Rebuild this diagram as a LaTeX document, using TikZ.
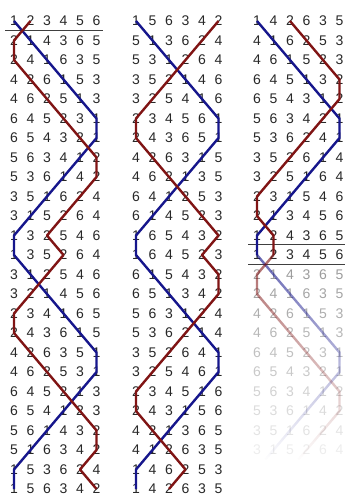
\documentclass[tikz,border=0pt]{standalone}
\usepackage{fontspec}
\setmainfont{Liberation Sans}
\usetikzlibrary{fadings}
\definecolor{trebleblue}{RGB}{22,22,140}
\definecolor{bellred}{RGB}{128,20,20}
\definecolor{digitgray}{RGB}{40,40,40}
\tikzset{
  digit/.style={inner sep=0pt, font=\fontsize{14}{14}\selectfont, text=digitgray},
  treble/.style={draw=trebleblue, line width=2.4pt, line join=round},
  belltwo/.style={draw=bellred, line width=2.4pt, line join=round},
  leadrule/.style={draw=black!75, line width=0.8pt},
}
\tikzfading[name=fadeout, top color=transparent!35, bottom color=transparent!100]
\newcommand\ringcol[4]{%
  \foreach \pa/\pb/\pc/\pd/\pe/\pf [count=\i] in {#3} {
    \pgfmathsetmacro\op{\i>#4 ? max(0.08, 0.46-(\i-#4-1)*0.042) : 1}
    \foreach \v [count=\p] in {\pa,\pb,\pc,\pd,\pe,\pf} {
      \node[digit, text opacity=\op] (#1-\i-\p) at ({#2+(\p-1)*16.5},{21+(\i-1)*19.5}) {\v};
    }
  }
}
\begin{document}
\begin{tikzpicture}[x=1pt,y=-1pt]
\fill[white] (0,0) rectangle (345,496);
\useasboundingbox (0,0) rectangle (345,496);
% column 1
\ringcol{A}{14}{1/2/3/4/5/6, 2/1/4/3/6/5, 2/4/1/6/3/5, 4/2/6/1/5/3, 4/6/2/5/1/3, 6/4/5/2/3/1, 6/5/4/3/2/1, 5/6/3/4/1/2, 5/3/6/1/4/2, 3/5/1/6/2/4, 3/1/5/2/6/4, 1/3/2/5/4/6, 1/3/5/2/6/4, 3/1/2/5/4/6, 3/2/1/4/5/6, 2/3/4/1/6/5, 2/4/3/6/1/5, 4/2/6/3/5/1, 4/6/2/5/3/1, 6/4/5/2/1/3, 6/5/4/1/2/3, 5/6/1/4/3/2, 5/1/6/3/4/2, 1/5/3/6/2/4, 1/5/6/3/4/2}{99}
% column 2
\ringcol{B}{136}{1/5/6/3/4/2, 5/1/3/6/2/4, 5/3/1/2/6/4, 3/5/2/1/4/6, 3/2/5/4/1/6, 2/3/4/5/6/1, 2/4/3/6/5/1, 4/2/6/3/1/5, 4/6/2/1/3/5, 6/4/1/2/5/3, 6/1/4/5/2/3, 1/6/5/4/3/2, 1/6/4/5/2/3, 6/1/5/4/3/2, 6/5/1/3/4/2, 5/6/3/1/2/4, 5/3/6/2/1/4, 3/5/2/6/4/1, 3/2/5/4/6/1, 2/3/4/5/1/6, 2/4/3/1/5/6, 4/2/1/3/6/5, 4/1/2/6/3/5, 1/4/6/2/5/3, 1/4/2/6/3/5}{99}
% column 3
\ringcol{C}{257}{1/4/2/6/3/5, 4/1/6/2/5/3, 4/6/1/5/2/3, 6/4/5/1/3/2, 6/5/4/3/1/2, 5/6/3/4/2/1, 5/3/6/2/4/1, 3/5/2/6/1/4, 3/2/5/1/6/4, 2/3/1/5/4/6, 2/1/3/4/5/6, 1/2/4/3/6/5, 1/2/3/4/5/6, 2/1/4/3/6/5, 2/4/1/6/3/5, 4/2/6/1/5/3, 4/6/2/5/1/3, 6/4/5/2/3/1, 6/5/4/3/2/1, 5/6/3/4/1/2, 5/3/6/1/4/2, 3/5/1/6/2/4, 3/1/5/2/6/4}{13}
\coordinate (blueend) at (265.25,459.75);
\coordinate (redend) at (298.25,459.75);
% rules
\draw[leadrule] (5,30) -- (103,30);
\draw[leadrule] (248,244.5) -- (345,244.5);
\draw[leadrule] (248,264.5) -- (345,264.5);
% column 1 paths
\draw[treble] (A-1-1.center) \foreach \p [count=\i from 2] in {2,3,4,5,6,6,5,4,3,2,1,1,2,3,4,5,6,6,5,4,3,2,1,1} { -- (A-\i-\p.center) };
\draw[belltwo] (A-1-2.center) \foreach \p [count=\i from 2] in {1,1,2,3,4,5,6,6,5,4,3,4,3,2,1,1,2,3,4,5,6,6,5,6} { -- (A-\i-\p.center) };
% column 2 paths
\draw[treble] (B-1-1.center) \foreach \p [count=\i from 2] in {2,3,4,5,6,6,5,4,3,2,1,1,2,3,4,5,6,6,5,4,3,2,1,1} { -- (B-\i-\p.center) };
\draw[belltwo] (B-1-6.center) \foreach \p [count=\i from 2] in {5,4,3,2,1,1,2,3,4,5,6,5,6,6,5,4,3,2,1,1,2,3,4,3} { -- (B-\i-\p.center) };
% column 3 paths
\draw[treble] (C-1-1.center) \foreach \p [count=\i from 2] in {2,3,4,5,6,6,5,4,3,2,1,1} { -- (C-\i-\p.center) };
\draw[belltwo] (C-1-3.center) \foreach \p [count=\i from 2] in {4,5,6,6,5,4,3,2,1,1,2,2} { -- (C-\i-\p.center) };
\draw[treble, path fading=fadeout] (C-13-1.center) \foreach \p [count=\i from 14] in {2,3,4,5,6,6,5,4,3,2} { -- (C-\i-\p.center) } -- (blueend);
\draw[belltwo, path fading=fadeout] (C-13-2.center) \foreach \p [count=\i from 14] in {1,1,2,3,4,5,6,6,5,4} { -- (C-\i-\p.center) } -- (redend);
\end{tikzpicture}
\end{document}
